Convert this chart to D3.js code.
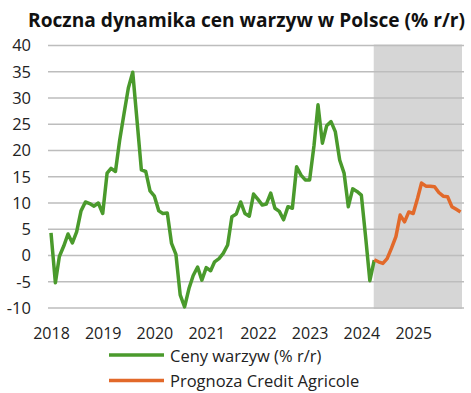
<!DOCTYPE html>
<html>
<head>
<meta charset="utf-8">
<script src="https://cdn.jsdelivr.net/npm/d3@7"></script>
<style>
  html, body { margin: 0; padding: 0; background: #fff; }
  svg { display: block; font-family: "Open Sans", sans-serif; }
</style>
</head>
<body>
<svg id="chart" width="471" height="393"></svg>
<script>
// monthly values, % r/r
const greenStart = new Date(2018, 0, 1);
const greenValues = [
  4.3, -5.2, -0.2, 1.8, 4.1, 2.4, 4.5, 8.5, 10.2, 9.9, 9.4, 10.0,
  8.0, 15.7, 16.6, 16.0, 22.0, 27.1, 31.9, 34.9, 25.5, 16.3, 16.0, 12.3,
  11.3, 8.5, 8.0, 8.1, 2.3, 0.2, -7.5, -9.8, -6.3, -3.8, -2.2, -4.7,
  -2.3, -2.9, -1.2, -0.6, 0.4, 2.0, 7.4, 7.9, 10.2, 8.0, 7.5, 11.7,
  10.7, 9.6, 9.8, 11.9, 9.0, 8.4, 6.8, 9.3, 9.0, 16.9, 15.3, 14.4,
  14.4, 21.0, 28.7, 21.4, 24.7, 25.5, 23.6, 18.2, 15.7, 9.3, 12.7, 12.2,
  11.5, 3.3, -4.8, -0.9
];
const orangeStart = new Date(2024, 3, 1);
const orangeValues = [
  -0.8, -1.2, -1.5, -0.6, 1.4, 3.6, 7.7, 6.4, 8.3,
  8.0, 10.9, 13.8, 13.2, 13.2, 13.1, 12.0, 11.3, 11.2, 9.3, 8.8, 8.3
];
const yTicks = [-10, -5, 0, 5, 10, 15, 20, 25, 30, 35, 40];
const seriesNames = ["Ceny warzyw (% r/r)", "Prognoza Credit Agricole"];
const seriesColors = ["#4a9a2c", "#e2692a"];
const forecastFrom = new Date(2024, 3, 1);
const title = "Roczna dynamika cen warzyw w Polsce (% r/r)";

const svg = d3.select("#chart");

const x = d3.scaleTime()
  .domain([greenStart, new Date(2025, 11, 1)])
  .range([51, 460.5]);
const y = d3.scaleLinear().domain([-10, 40]).range([308, 45.5]);

const toPoints = (start, vals) => vals.map((v, i) => ({date: d3.timeMonth.offset(start, i), v: v}));
const green = toPoints(greenStart, greenValues);
const orange = toPoints(orangeStart, orangeValues);

// forecast band
svg.append("rect")
  .attr("x", x(forecastFrom) - 0.5)
  .attr("y", y(40) - 1)
  .attr("width", 462 - x(forecastFrom) + 0.5)
  .attr("height", y(-10) - y(40) + 2)
  .attr("fill", "#d6d6d6");

// gridlines
svg.append("g").selectAll("line")
  .data(yTicks)
  .enter().append("line")
  .attr("x1", 48).attr("x2", 464)
  .attr("y1", d => y(d)).attr("y2", d => y(d))
  .attr("stroke", "#bdbdbd")
  .attr("stroke-width", 1.5);

// y axis labels
const yAxis = svg.append("g")
  .attr("transform", "translate(31,0)")
  .call(d3.axisLeft(y).tickValues(yTicks).tickSize(0).tickPadding(0).tickFormat(d => String(d)));
yAxis.select(".domain").remove();
yAxis.selectAll("text").attr("font-size", 16.5).attr("fill", "#222").attr("font-family", "Open Sans");

// x axis labels
const xAxis = svg.append("g")
  .attr("transform", "translate(0,308)")
  .call(d3.axisBottom(x).ticks(d3.timeYear.every(1)).tickSize(0).tickPadding(19.6).tickFormat(d3.timeFormat("%Y")));
xAxis.select(".domain").remove();
xAxis.selectAll("text").attr("font-size", 16).attr("fill", "#222").attr("font-family", "Open Sans");

const line = d3.line().x(d => x(d.date)).y(d => y(d.v));

svg.append("path").datum(green)
  .attr("d", line)
  .attr("fill", "none")
  .attr("stroke", seriesColors[0])
  .attr("stroke-width", 3.5)
  .attr("stroke-linejoin", "round");

svg.append("path").datum(orange)
  .attr("d", line)
  .attr("fill", "none")
  .attr("stroke", seriesColors[1])
  .attr("stroke-width", 3.5)
  .attr("stroke-linejoin", "round");

// title
svg.append("text")
  .attr("x", 28).attr("y", 27)
  .attr("font-size", 19)
  .attr("font-weight", "bold")
  .attr("fill", "#111")
  .attr("textLength", 437)
  .attr("lengthAdjust", "spacingAndGlyphs")
  .text(title);

// legend
const legend = svg.append("g").selectAll("g")
  .data(seriesNames)
  .enter().append("g")
  .attr("transform", (d, i) => "translate(0," + (355 + i * 25.5) + ")");
legend.append("line")
  .attr("x1", 109).attr("x2", 164)
  .attr("stroke", (d, i) => seriesColors[i])
  .attr("stroke-width", 3.5);
legend.append("text")
  .attr("x", 170).attr("y", 6.5)
  .attr("font-size", 16.5)
  .attr("fill", "#222")
  .text(d => d);
</script>
</body>
</html>
